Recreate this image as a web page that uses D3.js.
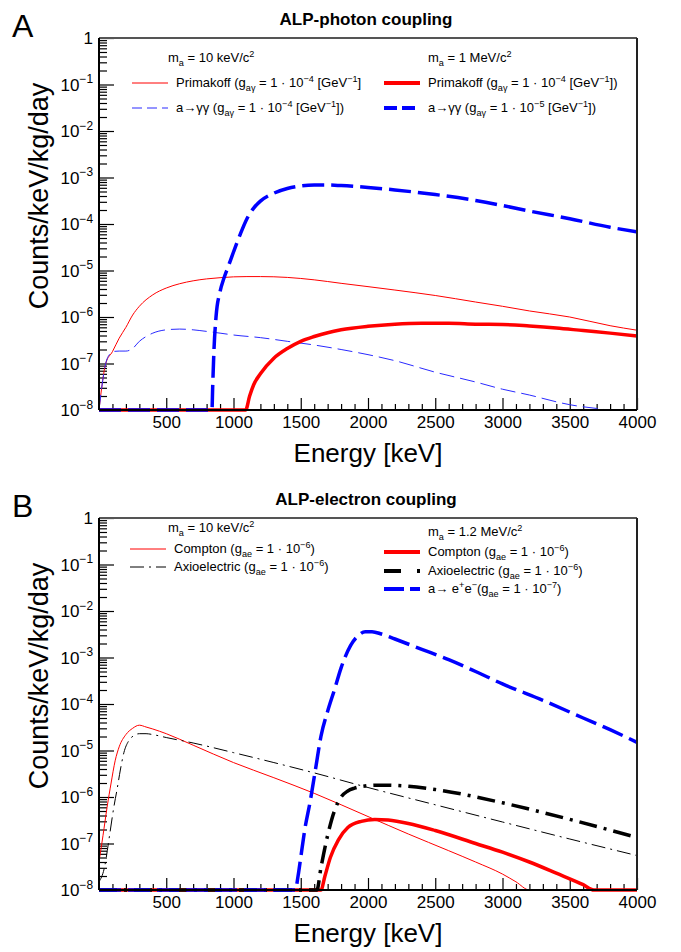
<!DOCTYPE html>
<html>
<head>
<meta charset="utf-8">
<script src="https://cdn.jsdelivr.net/npm/d3@7"></script>
<style>
  body { margin: 0; background: #fff; }
  text { font-family: "Liberation Sans", Arial, sans-serif; fill: #000; }
</style>
</head>
<body>
<svg id="chart" width="681" height="952"></svg>
<script>
// ---- data ----
// panel A: ALP-photon coupling
var primLowE = [0, 20, 50, 100, 150, 200, 250, 300, 400, 500, 600, 700, 800, 900, 1000, 1100, 1200, 1400, 1600, 1800, 2000, 2200, 2500, 2800, 3000, 3200, 3500, 3800, 4000];
var primLowV = [1e-8, 3e-8, 1e-7, 1.8e-7, 3.5e-7, 6e-7, 1.1e-6, 1.7e-6, 3e-6, 4.2e-6, 5.2e-6, 6e-6, 6.6e-6, 7e-6, 7.3e-6, 7.4e-6, 7.4e-6, 7.1e-6, 6.3e-6, 5.3e-6, 4.5e-6, 3.8e-6, 2.9e-6, 2.1e-6, 1.7e-6, 1.35e-6, 1e-6, 6.5e-7, 5.2e-7];

var ggLowE = [0, 20, 50, 80, 100, 150, 200, 250, 300, 350, 400, 500, 600, 700, 800, 900, 1000, 1200, 1400, 1600, 1800, 2000, 2200, 2500, 2800, 3000, 3200, 3400, 3500, 3700, 3800, 4000];
var ggLowV = [1e-8, 3e-8, 1e-7, 1.6e-7, 1.8e-7, 1.85e-7, 1.85e-7, 2.1e-7, 3e-7, 3.8e-7, 4.5e-7, 5.3e-7, 5.5e-7, 5.3e-7, 4.9e-7, 4.5e-7, 4.1e-7, 3.6e-7, 3e-7, 2.5e-7, 2e-7, 1.55e-7, 1.15e-7, 6.5e-8, 4e-8, 2.8e-8, 2.1e-8, 1.5e-8, 1.3e-8, 1.08e-8, 1e-8, 9e-9];

var primHighE = [0, 1090, 1120, 1150, 1200, 1300, 1400, 1500, 1600, 1700, 1800, 2000, 2200, 2400, 2600, 2800, 3000, 3200, 3400, 3600, 3800, 4000];
var primHighV = [1e-8, 1e-8, 2e-8, 3.5e-8, 6e-8, 1.3e-7, 2.1e-7, 3e-7, 3.8e-7, 4.6e-7, 5.3e-7, 6.3e-7, 7e-7, 7.3e-7, 7.3e-7, 7e-7, 6.9e-7, 6.4e-7, 5.8e-7, 5.1e-7, 4.5e-7, 3.9e-7];

var ggHighE = [0, 840, 845, 855, 870, 900, 930, 960, 1000, 1050, 1100, 1150, 1200, 1300, 1400, 1500, 1600, 1700, 1800, 2000, 2200, 2500, 2800, 3000, 3200, 3500, 3800, 4000];
var ggHighV = [1e-8, 1e-8, 3e-8, 2e-7, 1e-6, 3.5e-6, 7e-6, 1.2e-5, 2.5e-5, 6e-5, 1.3e-4, 2.2e-4, 3.1e-4, 4.6e-4, 5.8e-4, 6.6e-4, 6.9e-4, 6.9e-4, 6.7e-4, 6.1e-4, 5.4e-4, 4.3e-4, 3.2e-4, 2.5e-4, 1.9e-4, 1.3e-4, 8.5e-5, 6.8e-5];

// panel B: ALP-electron coupling
var compLowE = [0, 30, 60, 90, 120, 150, 200, 250, 300, 350, 400, 500, 700, 1000, 1300, 1600, 2000, 2300, 2600, 2800, 3000, 3100, 3200, 3300];
var compLowV = [4e-8, 1.5e-7, 6e-7, 2e-6, 6e-6, 1.2e-5, 2.2e-5, 3e-5, 3.5e-5, 3.2e-5, 2.9e-5, 2.3e-5, 1.3e-5, 5.5e-6, 2.6e-6, 1.2e-6, 3.8e-7, 1.6e-7, 7e-8, 4e-8, 2.2e-8, 1.5e-8, 1e-8, 8e-9];

var axioLowE = [0, 40, 80, 110, 135, 160, 185, 220, 260, 300, 350, 400, 500, 700, 1000, 1300, 1600, 2000, 2500, 3000, 3500, 4000];
var axioLowV = [1.5e-8, 3e-8, 1.6e-7, 6e-7, 1.5e-6, 4e-6, 9e-6, 1.6e-5, 2.1e-5, 2.3e-5, 2.3e-5, 2.2e-5, 1.9e-5, 1.45e-5, 9e-6, 5.5e-6, 3.3e-6, 1.6e-6, 6.8e-7, 2.9e-7, 1.25e-7, 5.5e-8];

var compHighE = [0, 1650, 1680, 1720, 1780, 1850, 1950, 2050, 2150, 2300, 2500, 2800, 3000, 3200, 3400, 3600, 3680, 4000];
var compHighV = [1e-8, 1e-8, 2e-8, 5e-8, 1.2e-7, 2.2e-7, 3e-7, 3.3e-7, 3.2e-7, 2.7e-7, 1.9e-7, 1e-7, 6.5e-8, 4e-8, 2.3e-8, 1.3e-8, 1e-8, 1e-8];

var axioHighE = [0, 1620, 1650, 1700, 1750, 1800, 1850, 1900, 2000, 2100, 2200, 2500, 3000, 3500, 4000];
var axioHighV = [1e-8, 1e-8, 3e-8, 1.5e-7, 5e-7, 1e-6, 1.35e-6, 1.55e-6, 1.75e-6, 1.8e-6, 1.78e-6, 1.45e-6, 7.5e-7, 3.3e-7, 1.35e-7];

var eeHighE = [0, 1460, 1480, 1500, 1530, 1570, 1610, 1650, 1700, 1750, 1800, 1870, 1930, 1980, 2030, 2100, 2200, 2400, 2600, 2800, 3000, 3300, 3600, 3800, 4000];
var eeHighV = [1e-8, 1e-8, 2e-8, 5e-8, 2e-7, 8e-7, 4e-6, 2e-5, 7e-5, 2e-4, 6e-4, 1.8e-3, 3e-3, 3.6e-3, 3.6e-3, 3.2e-3, 2.5e-3, 1.5e-3, 9e-4, 5e-4, 2.7e-4, 1.2e-4, 5e-5, 2.8e-5, 1.5e-5];

// axis ticks
var xMajor = [500, 1000, 1500, 2000, 2500, 3000, 3500, 4000];
var yExp = [0, -1, -2, -3, -4, -5, -6, -7, -8];

// ---- drawing ----
var svg = d3.select("#chart");
var left = 99, right = 637;

function richText(g, x, y, parts, size, anchor) {
    // parts: [text, "sub"|"sup"|undefined]
    var t = g.append("text").attr("x", x).attr("y", y)
        .style("font-size", size + "px")
        .attr("text-anchor", anchor || "start");
    var shift = 0;
    parts.forEach(function(p) {
        var target = p[1] == "sup" ? -0.42 * size : (p[1] == "sub" ? 0.3 * size : 0);
        var s = t.append("tspan").text(p[0]).attr("dy", target - shift);
        if (p[1]) s.style("font-size", (size * 0.7) + "px");
        shift = target;
    });
    return t;
}

function drawPanel(cfg) {
    var g = svg.append("g");
    var x = d3.scaleLinear().domain([0, 4000]).range([left, right]);
    var y = d3.scaleLog().domain([1e-8, 1]).range([cfg.bottom, cfg.top]).clamp(true);

    // minor y ticks
    var yMinor = [];
    for (var e = -8; e < 0; e++)
        for (var m = 2; m < 10; m++) yMinor.push(m * Math.pow(10, e));

    g.append("g").attr("transform", "translate(" + left + ",0)")
        .call(d3.axisLeft(y).tickValues(yMinor).tickSize(-8).tickSizeOuter(0).tickFormat(""))
        .call(a => a.select(".domain").remove());
    g.append("g").attr("transform", "translate(" + left + ",0)")
        .call(d3.axisLeft(y).tickValues(yExp.map(k => Math.pow(10, k))).tickSize(-15).tickSizeOuter(0).tickFormat(""))
        .call(a => a.select(".domain").remove());

    var xMinor = d3.range(100, 4000, 100).filter(v => v % 500 != 0);
    g.append("g").attr("transform", "translate(0," + cfg.bottom + ")")
        .call(d3.axisBottom(x).tickValues(xMinor).tickSize(-6).tickSizeOuter(0).tickFormat(""))
        .call(a => a.select(".domain").remove());
    var xa = g.append("g").attr("transform", "translate(0," + cfg.bottom + ")")
        .call(d3.axisBottom(x).tickValues(xMajor).tickSize(-12).tickSizeOuter(0).tickFormat(d3.format("d")))
        .call(a => a.select(".domain").remove());
    xa.selectAll("text").attr("y", 6).attr("dy", "0.71em").attr("fill", "#000")
        .style("font-size", "17px").style("font-family", "Liberation Sans, Arial, sans-serif");
    g.selectAll(".tick line").attr("stroke", "#000").attr("stroke-width", 1.2);

    // y tick labels with superscripts
    yExp.forEach(function(k) {
        var yy = y(Math.pow(10, k)) + 6;
        if (k == 0) richText(g, 93, yy, [["1"]], 17, "end");
        else richText(g, 93, yy, [["10"], ["\u2212" + (-k), "sup"]], 17, "end");
    });

    // curves
    var line = d3.line().x(d => x(d[0])).y(d => y(d[1])).curve(d3.curveMonotoneX);
    cfg.series.forEach(function(s) {
        var pts = s.e.map((v, i) => [v, s.v[i]]);
        g.append("path").datum(pts).attr("d", line)
            .attr("fill", "none").attr("stroke", s.color)
            .attr("stroke-width", s.w).attr("stroke-dasharray", s.dash || null);
    });

    // frame
    g.append("line").attr("x1", left).attr("x2", right).attr("y1", cfg.top).attr("y2", cfg.top)
        .attr("stroke", "#555").attr("stroke-width", 2);
    g.append("line").attr("x1", right).attr("x2", right).attr("y1", cfg.top).attr("y2", cfg.bottom)
        .attr("stroke", "#222").attr("stroke-width", 2);
    g.append("line").attr("x1", left).attr("x2", left).attr("y1", cfg.top).attr("y2", cfg.bottom)
        .attr("stroke", "#000").attr("stroke-width", 2);
    g.append("line").attr("x1", left).attr("x2", right).attr("y1", cfg.bottom).attr("y2", cfg.bottom)
        .attr("stroke", "#000").attr("stroke-width", 2);

    // titles
    g.append("text").attr("x", 12).attr("y", cfg.top - 1).text(cfg.letter).style("font-size", "32px");
    g.append("text").attr("x", 366).attr("y", cfg.top - 13).attr("text-anchor", "middle")
        .text(cfg.title).style("font-size", "17px").style("font-weight", "bold");
    g.append("text").attr("x", 368).attr("y", cfg.bottom + 52).attr("text-anchor", "middle")
        .text("Energy [keV]").style("font-size", "26px");
    g.append("text").attr("transform", "translate(48," + (cfg.top + 158) + ") rotate(-90)")
        .attr("text-anchor", "middle").text("Counts/keV/kg/day").style("font-size", "27px");

    // legend
    cfg.legend.forEach(function(l) {
        if (l.color) {
            g.append("line").attr("x1", l.x - 44).attr("x2", l.x - 8).attr("y1", l.y - 4).attr("y2", l.y - 4)
                .attr("stroke", l.color).attr("stroke-width", l.w).attr("stroke-dasharray", l.dash || null);
        }
        richText(g, l.x, l.y, l.parts, 13);
    });
}

var thinDash = "15,6", thickDash = "22,7", thinDot = "14,5,2,5", thickDot = "18,7,3,7";

drawPanel({
    top: 38, bottom: 410, letter: "A", title: "ALP-photon coupling",
    series: [
        {e: primLowE, v: primLowV, color: "#ff0000", w: 1},
        {e: ggLowE, v: ggLowV, color: "#2a2aff", w: 1, dash: thinDash},
        {e: primHighE, v: primHighV, color: "#ff0000", w: 3.5},
        {e: ggHighE, v: ggHighV, color: "#0000ff", w: 3.5, dash: thickDash}
    ],
    legend: [
        {x: 168, y: 62, parts: [["m"], ["a", "sub"], [" = 10 keV/c"], ["2", "sup"]]},
        {x: 428, y: 62, parts: [["m"], ["a", "sub"], [" = 1 MeV/c"], ["2", "sup"]]},
        {x: 176, y: 87, color: "#ff0000", w: 1, parts: [["Primakoff (g"], ["a\u03b3", "sub"], [" = 1  \u00b7 10"], ["\u22124", "sup"], [" [GeV"], ["\u22121", "sup"], ["]"]]},
        {x: 428, y: 87, color: "#ff0000", w: 4, parts: [["Primakoff (g"], ["a\u03b3", "sub"], [" = 1  \u00b7 10"], ["\u22124", "sup"], [" [GeV"], ["\u22121", "sup"], ["])"]]},
        {x: 176, y: 112, color: "#2a2aff", w: 1, dash: "10,5", parts: [["a\u2192\u03b3\u03b3 (g"], ["a\u03b3", "sub"], [" = 1  \u00b7 10"], ["\u22124", "sup"], [" [GeV"], ["\u22121", "sup"], ["])"]]},
        {x: 428, y: 112, color: "#0000ff", w: 4, dash: "13,5", parts: [["a\u2192\u03b3\u03b3 (g"], ["a\u03b3", "sub"], [" = 1  \u00b7 10"], ["\u22125", "sup"], [" [GeV"], ["\u22121", "sup"], ["])"]]}
    ]
});

drawPanel({
    top: 518, bottom: 890, letter: "B", title: "ALP-electron coupling",
    series: [
        {e: compLowE, v: compLowV, color: "#ff0000", w: 1},
        {e: axioLowE, v: axioLowV, color: "#000", w: 1, dash: thinDot},
        {e: compHighE, v: compHighV, color: "#ff0000", w: 3.5},
        {e: axioHighE, v: axioHighV, color: "#000", w: 3.5, dash: thickDot},
        {e: eeHighE, v: eeHighV, color: "#0000ff", w: 3.5, dash: thickDash}
    ],
    legend: [
        {x: 168, y: 532, parts: [["m"], ["a", "sub"], [" = 10 keV/c"], ["2", "sup"]]},
        {x: 428, y: 536, parts: [["m"], ["a", "sub"], [" = 1.2 MeV/c"], ["2", "sup"]]},
        {x: 174, y: 553, color: "#ff0000", w: 1, parts: [["Compton (g"], ["ae", "sub"], [" = 1  \u00b7 10"], ["\u22126", "sup"], [")"]]},
        {x: 174, y: 571, color: "#000", w: 1, dash: thinDot, parts: [["Axioelectric (g"], ["ae", "sub"], [" = 1  \u00b7 10"], ["\u22126", "sup"], [")"]]},
        {x: 428, y: 556, color: "#ff0000", w: 4, parts: [["Compton (g"], ["ae", "sub"], [" = 1  \u00b7 10"], ["\u22126", "sup"], [")"]]},
        {x: 428, y: 575, color: "#000", w: 4, dash: "17,16,3,10", parts: [["Axioelectric (g"], ["ae", "sub"], [" = 1  \u00b7 10"], ["\u22126", "sup"], [")"]]},
        {x: 428, y: 593, color: "#0000ff", w: 4, dash: "20,6", parts: [["a\u2192 e"], ["+", "sup"], ["e"], ["\u2212", "sup"], ["(g"], ["ae", "sub"], [" = 1  \u00b7 10"], ["\u22127", "sup"], [")"]]}
    ]
});
</script>
</body>
</html>
